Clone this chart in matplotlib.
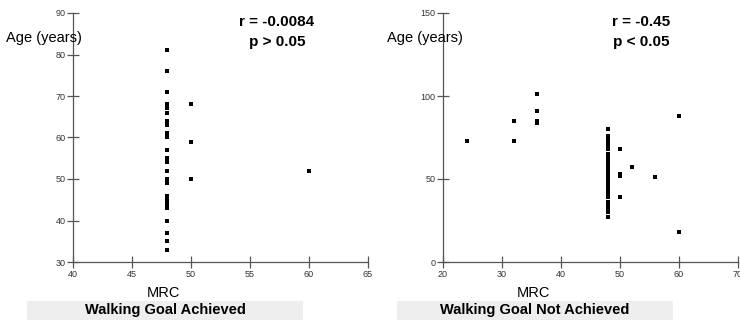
import matplotlib
matplotlib.use("Agg")
import matplotlib.pyplot as plt
from matplotlib.patches import Rectangle

plt.rcParams['font.family'] = ['Liberation Sans', 'DejaVu Sans']

# walking goal achieved
mrc_ach = [48] * 24 + [50, 50, 50, 60]
age_ach = [81, 76, 71, 68, 67, 66, 64, 63, 61, 60, 57, 55, 54, 52, 50, 49,
           46, 45, 44, 43, 40, 37, 35, 33,
           68, 59, 50, 52]

# walking goal not achieved
age_48 = [80, 76, 75, 74, 73, 72, 70, 68, 65, 64, 63, 62, 61, 60, 59, 58, 57,
          56, 55, 53, 51, 49, 47, 45, 44, 43, 41, 39, 36, 34, 32, 30, 27]
mrc_not = [24, 32, 32, 36, 36, 36, 36] + [48] * len(age_48) + [50, 50, 50, 50, 52, 56, 60, 60]
age_not = [73, 85, 73, 101, 91, 85, 84] + age_48 + [68, 53, 52, 39, 57, 51, 88, 18]

panels = [
    dict(x=mrc_ach, y=age_ach, xlim=(40, 65), xticks=range(40, 66, 5),
         ylim=(30, 90), yticks=range(30, 91, 10),
         stats="r = -0.0084\np > 0.05", title="Walking Goal Achieved"),
    dict(x=mrc_not, y=age_not, xlim=(20, 70), xticks=range(20, 71, 10),
         ylim=(0, 150), yticks=range(0, 151, 50),
         stats="r = -0.45\np < 0.05", title="Walking Goal Not Achieved"),
]

fig = plt.figure(figsize=(7.4, 3.2), dpi=100)
W, H = 740, 320
lefts = [73, 443]
ylabel_x = [6, 387]
stats_x = [277, 641]

for i, p in enumerate(panels):
    left = lefts[i]
    ax = fig.add_axes([left / W, 58 / H, 295 / W, 249 / H])
    ax.scatter(p["x"], p["y"], marker="s", s=9, color="black", linewidths=0,
               clip_on=False)
    ax.set_xlim(*p["xlim"])
    ax.set_ylim(*p["ylim"])
    ax.set_xticks(list(p["xticks"]))
    ax.set_yticks(list(p["yticks"]))
    for s in ["top", "right"]:
        ax.spines[s].set_visible(False)
    for s in ["left", "bottom"]:
        ax.spines[s].set_color("#555555")
        ax.spines[s].set_linewidth(0.9)
    ax.tick_params(direction="inout", length=9, width=0.9, color="#555555",
                   labelsize=6.5, labelcolor="#333333", pad=1)

    off = left - 73
    fig.text(ylabel_x[i] / W, 1 - 38 / H, "Age (years)", fontsize=10.5,
             ha="left", va="center")
    fig.text((off + 163) / W, 1 - 293 / H, "MRC", fontsize=10.5,
             ha="center", va="center")
    fig.text(stats_x[i] / W, 1 - 32 / H, p["stats"], fontsize=11,
             fontweight="bold", ha="center", va="center", linespacing=1.5)
    fig.patches.append(Rectangle(((off + 27) / W, 0), 276 / W, 19 / H,
                                 transform=fig.transFigure,
                                 facecolor="#eeeeee", edgecolor="none"))
    fig.text((off + 165) / W, 1 - 310 / H, p["title"], fontsize=10.5,
             fontweight="bold", ha="center", va="center")

fig.savefig("out.png", dpi=100)
